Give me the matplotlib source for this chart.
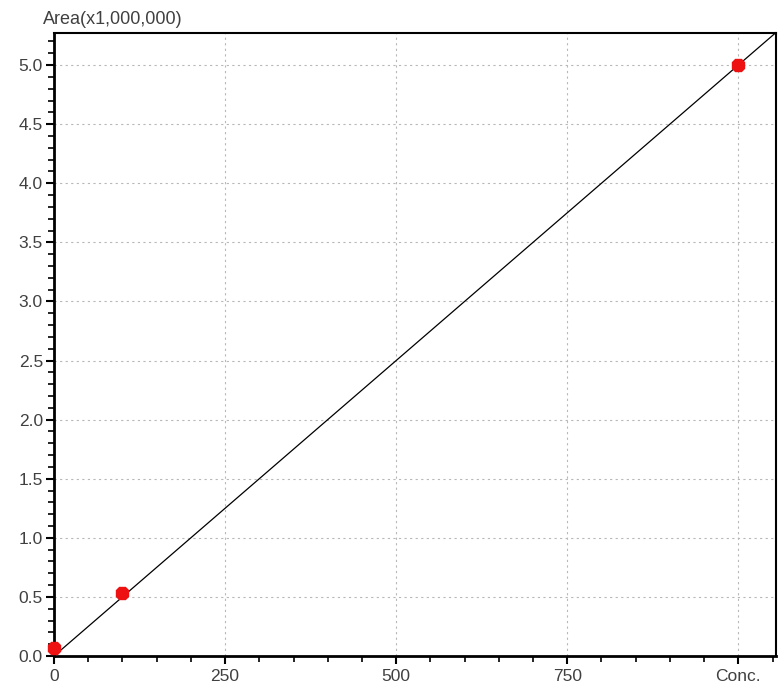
import numpy as np
import matplotlib
matplotlib.use("Agg")
import matplotlib.pyplot as plt
from matplotlib.ticker import MultipleLocator

plt.rcParams['font.family'] = ['Liberation Sans', 'DejaVu Sans']

# standard points (conc, area x 1e6)
conc = [0, 100, 1000]
area = [0.07, 0.53, 5.0]

# calibration line
slope = 0.005
intercept = 0.0

xticks = [0, 250, 500, 750, 1000]
xticklabels = ["0", "250", "500", "750", "Conc."]
yticks = [0.0, 0.5, 1.0, 1.5, 2.0, 2.5, 3.0, 3.5, 4.0, 4.5, 5.0]

fig = plt.figure(figsize=(7.78, 6.86), dpi=100)
ax = fig.add_axes([0.0694, 0.0437, 0.928, 0.908])

xmin, xmax = 0, 1055
ymin, ymax = 0, 5.27
xl = np.array([xmin, xmax])
ax.plot(xl, slope * xl + intercept, color="black", lw=0.9, zorder=2)
ax.plot(conc, area, linestyle="none", marker="8", ms=10, color="#ee1111",
        markeredgecolor="#ee1111", zorder=3, clip_on=False)

ax.set_xlim(xmin, xmax)
ax.set_ylim(ymin, ymax)
ax.set_xticks(xticks)
ax.set_xticklabels(xticklabels)
ax.set_yticks(yticks)
ax.set_yticklabels([f"{v:.1f}" for v in yticks])
ax.xaxis.set_minor_locator(MultipleLocator(50))
ax.yaxis.set_minor_locator(MultipleLocator(0.1))

ax.grid(True, which="major", color="#b8b8b8", linestyle=(0, (2, 3)), lw=0.8)
ax.set_axisbelow(True)

ax.tick_params(which="major", length=6, width=1.5, labelsize=12.5, colors="black",
               labelcolor="#404040", pad=2)
ax.tick_params(axis="x", which="major", pad=3)
ax.tick_params(which="minor", length=4, width=1.2)
for s in ["left", "bottom"]:
    ax.spines[s].set_linewidth(2)
for s in ["top", "right"]:
    ax.spines[s].set_linewidth(1.5)

fig.text(43 / 778, 1 - 20 / 686, "Area(x1,000,000)", fontsize=13, color="#404040",
         va="center", ha="left")

fig.savefig("out.png", dpi=100)
